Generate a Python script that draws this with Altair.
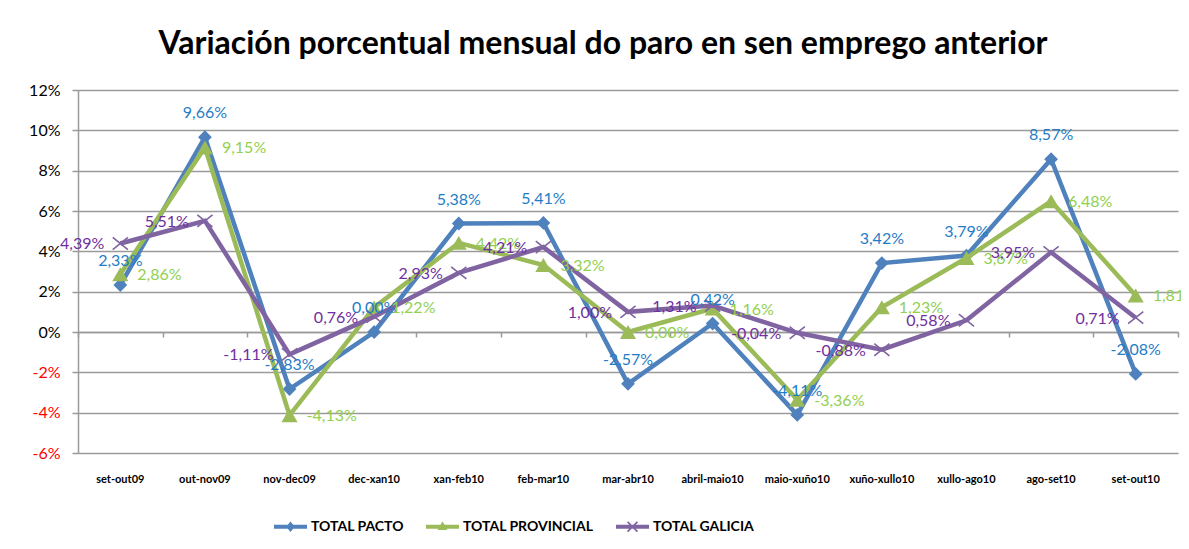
import altair as alt
import pandas as pd

categories = ["set-out09", "out-nov09", "nov-dec09", "dec-xan10", "xan-feb10", "feb-mar10",
              "mar-abr10", "abril-maio10", "maio-xuño10", "xuño-xullo10", "xullo-ago10",
              "ago-set10", "set-out10"]
series_names = ["TOTAL PACTO", "TOTAL PROVINCIAL", "TOTAL GALICIA"]
pacto = [2.33, 9.66, -2.83, 0.00, 5.38, 5.41, -2.57, 0.42, -4.11, 3.42, 3.79, 8.57, -2.08]
provincial = [2.86, 9.15, -4.13, 1.22, 4.42, 3.32, 0.00, 1.16, -3.36, 1.23, 3.67, 6.48, 1.81]
galicia = [4.39, 5.51, -1.11, 0.76, 2.93, 4.21, 1.00, 1.31, -0.04, -0.88, 0.58, 3.95, 0.71]
y_ticks = [-6, -4, -2, 0, 2, 4, 6, 8, 10, 12]

# styles
line_colors = ["#4F81BD", "#9BBB59", "#8064A2"]
label_colors = ["#1F7DC8", "#92D050", "#7030A0"]
FONT = "Lato"

rows = []
for name, vals in zip(series_names, [pacto, provincial, galicia]):
    for c, v in zip(categories, vals):
        rows.append({"series": name, "cat": c, "value": v,
                     "label": f"{v:.2f}".replace(".", ",") + "%"})
df = pd.DataFrame(rows)

W, H = 1100, 363
xscale = alt.Scale(type="band", domain=categories, paddingInner=0, paddingOuter=0)
yscale = alt.Scale(domain=[-6, 12], nice=False, zero=False)
y_axis = alt.Axis(values=y_ticks, title=None, labelExpr="datum.value + '%'",
                  labelColor={"expr": "datum.value < 0 ? '#FF0000' : '#000000'"},
                  labelFont=FONT, labelFontSize=16, labelPadding=12,
                  grid=True, gridColor="#9A9A9A", gridWidth=1.5,
                  domainColor="#9A9A9A", domainWidth=1.5,
                  tickColor="#9A9A9A", tickWidth=1.5, tickSize=6)
Y = alt.Y("value:Q", scale=yscale, axis=y_axis)

x_label_axis = alt.Axis(title=None, orient="bottom", labelAngle=0, labelFont=FONT,
                        labelFontWeight="bold", labelFontSize=11, labelColor="#000000",
                        labelPadding=20, ticks=False, domain=False, grid=False)
x_tick_axis = alt.Axis(title=None, orient="bottom", offset=-121, labels=False,
                       ticks=True, tickBand="extent", tickSize=5, tickColor="#9A9A9A",
                       tickWidth=1.5, domain=True, domainColor="#9A9A9A", domainWidth=1.5,
                       grid=False)

def X(axis):
    return alt.X("cat:N", sort=categories, scale=xscale, axis=axis)

base = alt.Chart(df)
shapes = ["diamond", "triangle-up", "M-1,-0.8L1,0.8M-1,0.8L1,-0.8"]
sizes = [190, 260, 230]
layers = []
for i, name in enumerate(series_names):
    sub = base.transform_filter(alt.datum.series == name)
    line = sub.mark_line(color=line_colors[i], strokeWidth=4.5).encode(
        x=X(x_label_axis if i == 0 else None), y=Y)
    if i < 2:
        pts = sub.mark_point(shape=shapes[i], filled=True, color=line_colors[i],
                             size=sizes[i], opacity=1).encode(
            x=X(x_tick_axis if i == 0 else None), y=Y)
    else:
        pts = sub.mark_point(shape=shapes[i], filled=False, color=line_colors[i],
                             strokeWidth=1.6, size=sizes[i], opacity=1).encode(
            x=X(None), y=Y)
    layers += [line, pts]

label_style = [dict(dx=0, dy=-24, align="center"),
               dict(dx=17, dy=1, align="left"),
               dict(dx=-16, dy=1, align="right")]
for i, name in enumerate(series_names):
    sub = base.transform_filter(alt.datum.series == name)
    layers.append(sub.mark_text(font=FONT, fontSize=16, color=label_colors[i],
                                baseline="middle", **label_style[i]).encode(
        x=X(None), y=Y, text="label:N"))

d = 0.035
xpath = (f"M{-0.3+d},{-0.3-d}L{0.3+d},{0.3-d}L{0.3-d},{0.3+d}L{-0.3-d},{-0.3+d}Z"
         f"M{-0.3-d},{0.3-d}L{0.3-d},{-0.3-d}L{0.3+d},{-0.3+d}L{-0.3+d},{0.3+d}Z")
bar = "M-1,-0.12L1,-0.12L1,0.12L-1,0.12Z"
legend_paths = [bar + "M0,-0.32L0.26,0L0,0.32L-0.26,0Z",
                bar + "M0,-0.34L0.3,0.2L-0.3,0.2Z",
                bar + xpath]
leg = alt.Legend(title=None, orient="none", legendX=196, legendY=420, direction="horizontal",
                 labelFont=FONT, labelFontWeight="bold", labelFontSize=14,
                 labelColor="#000000", symbolSize=1089, symbolStrokeWidth=0,
                 labelOffset=4, columnPadding=22)
legend_layer = base.transform_filter("false").mark_point(filled=True, size=1089, opacity=1).encode(
    color=alt.Color("series:N", scale=alt.Scale(domain=series_names, range=line_colors), legend=leg),
    shape=alt.Shape("series:N", scale=alt.Scale(domain=series_names, range=legend_paths), legend=leg),
)
layers.append(legend_layer)

chart = alt.layer(*layers).resolve_axis(x="independent").properties(
    width=W, height=H,
    autosize=alt.AutoSizeParams(type="none"),
    padding={"left": 70, "top": 82, "right": 3, "bottom": 85},
    title=alt.TitleParams("Variación porcentual mensual do paro en sen emprego anterior",
                          font=FONT, fontSize=32, fontWeight="bold", color="#000000",
                          anchor="middle", frame="group", dx=-25, offset=21),
).configure_view(stroke=None)

chart.save("out.html", embed_options={"renderer": "svg", "actions": False})
